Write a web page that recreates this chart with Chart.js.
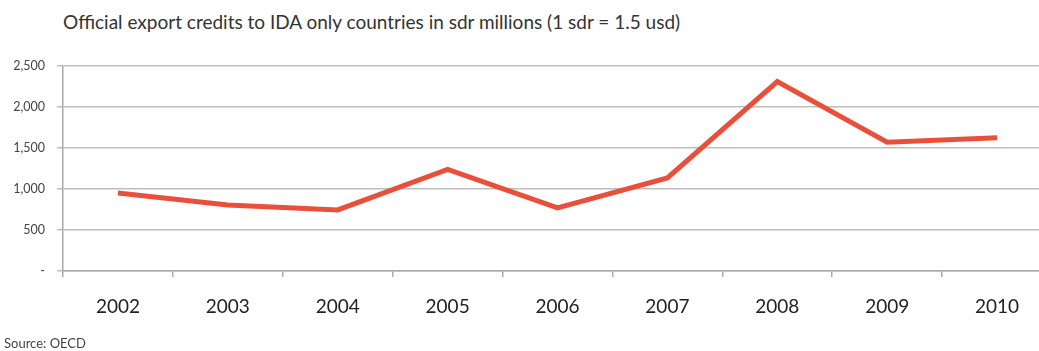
<!DOCTYPE html>
<html lang="en">
<head>
<meta charset="UTF-8" />
<title>export credits</title>
<script src="https://cdn.jsdelivr.net/npm/chart.js"></script>
<style>
  body, html {
    margin: 0; padding: 0;
    background: #fff;
    width: 1039px; height: 351px;
    overflow: hidden;
    font-family: Lato, "Open Sans", sans-serif;
  }
  #title {
    position: absolute;
    left: 63px; top: 10px;
    font-size: 19px;
    color: #333;
    white-space: nowrap;
  }
  #source {
    position: absolute;
    left: 4px; top: 335px;
    font-size: 13px;
    color: #444;
  }
  #wrap {
    position: absolute;
    left: 0; top: 0;
    width: 1052px; height: 351px;
  }
</style>
</head>
<body>
  <div id="title">Official export credits to IDA only countries in sdr millions (1 sdr = 1.5 usd)</div>
  <div id="wrap"><canvas id="c"></canvas></div>
  <div id="source">Source: OECD</div>

<script>
  const years = ['2002', '2003', '2004', '2005', '2006', '2007', '2008', '2009', '2010'];
  const credits = [950, 805, 745, 1240, 770, 1135, 2310, 1570, 1625];
  const yTicks = [0, 500, 1000, 1500, 2000, 2500];

  new Chart(document.getElementById('c'), {
    type: 'line',
    data: {
      labels: years,
      datasets: [{
        data: credits,
        borderColor: '#e9503b',
        borderWidth: 5,
        pointRadius: 0,
        tension: 0,
        borderJoinStyle: 'miter'
      }]
    },
    options: {
      responsive: true,
      maintainAspectRatio: false,
      animation: false,
      layout: { padding: { top: 66, left: 0, right: 0, bottom: 0 } },
      plugins: { legend: { display: false }, tooltip: { enabled: false } },
      scales: {
        x: {
          offset: true,
          grid: { offset: true, drawOnChartArea: false, tickLength: 6, color: '#aaa', lineWidth: 1.5 },
          border: { color: '#aaa', width: 1.5 },
          ticks: { font: { family: 'Lato', size: 19 }, color: '#222', padding: 18 },
          afterFit: s => { s.height = 80; }
        },
        y: {
          min: yTicks[0],
          max: yTicks[yTicks.length - 1],
          afterBuildTicks: s => { s.ticks = yTicks.map(v => ({ value: v })); },
          grid: { color: '#bdbdbd', lineWidth: 1.5, tickLength: 6 },
          border: { color: '#aaa', width: 1.5 },
          ticks: {
            font: { family: 'Lato', size: 12.5 },
            color: '#444',
            padding: 12,
            callback: v => v === 0 ? '-' : v.toLocaleString('en-US')
          },
          afterFit: s => { s.width = 63; }
        }
      }
    }
  });
</script>
</body>
</html>
